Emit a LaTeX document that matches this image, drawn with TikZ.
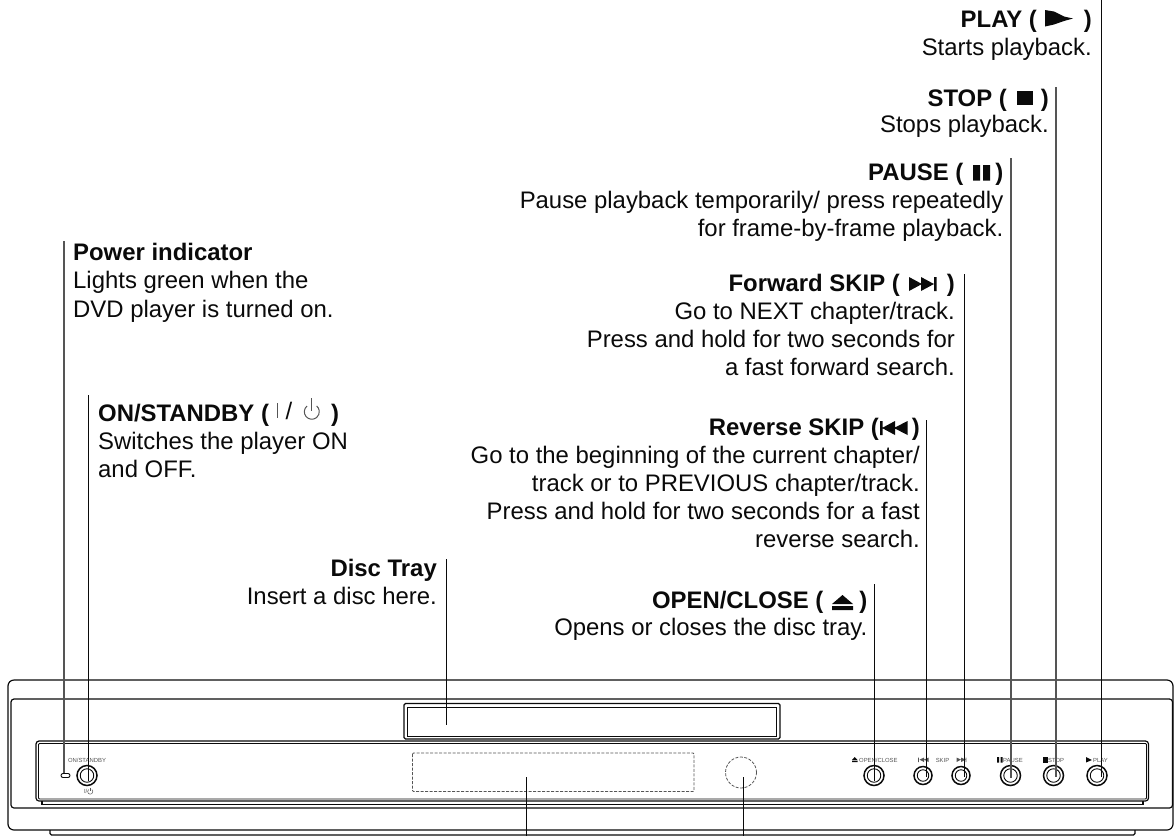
\documentclass[tikz,border=0pt]{standalone}
\usepackage{fontspec}
\setmainfont{Liberation Sans}
\definecolor{ink}{HTML}{0A0A0A}
\definecolor{fine}{HTML}{555555}
\tikzset{
  lblr/.style={anchor=north east,align=right,inner sep=0pt,text=ink,font=\fontsize{23.9}{28}\selectfont},
  lbll/.style={anchor=north west,align=left,inner sep=0pt,text=ink,font=\fontsize{23.9}{28}\selectfont},
  leader/.style={draw=ink,line width=1.4pt},
  body/.style={draw=ink,line width=1.2pt},
  thin/.style={draw=ink,line width=0.8pt},
  dashline/.style={draw=fine,line width=0.8pt,dash pattern=on 3pt off 1.5pt},
  btn/.style={circle,draw=ink,line width=1.5pt,minimum size=#1,inner sep=0pt},
  btni/.style={circle,draw=ink,line width=0.9pt,minimum size=#1,inner sep=0pt},
  tiny/.style={inner sep=0pt,text=fine,font=\fontsize{5.9}{7}\selectfont},
  icon/.style={fill=ink,draw=none},
}
\begin{document}
\begin{tikzpicture}[x=1pt,y=-1pt]
\useasboundingbox (0,0) rectangle (1175,836);
% device
\path[body,rounded corners=1.5pt] (50,830) -- (50,835) -- (1135,835) -- (1135,830);
\path[body,rounded corners=6pt] (8,680) rectangle (1173,830);
\path[body,rounded corners=3pt] (11,699) rectangle (1172.5,808);
\path[body] (42,801) -- (42,804.5) -- (1143,804.5) -- (1143,801);
\path[body,rounded corners=3pt] (36,741) rectangle (1148.5,801);
\path[thin,rounded corners=1pt] (38.5,743.5) rectangle (1146.5,799);
% tray
\path[body,rounded corners=1.5pt] (404,703.5) rectangle (780,739);
\path[thin] (407.3,707) rectangle (776.7,736);
% display and sensor
\path[dashline,rounded corners=1pt] (412.5,753) rectangle (694,791.5);
\node[circle,dashline,minimum size=31pt,inner sep=0pt] (sensor) at (741,772.5) {};
\node[draw=ink,line width=0.9pt,rounded corners=2pt,minimum width=9pt,minimum height=4pt,inner sep=0pt] (led) at (65.5,775.5) {};
% buttons
\node[btn=20pt] (power) at (87,775.5) {};   \node[btni=13.5pt] at (87,775.5) {};
\node[btn=20pt] (open) at (874,775.5) {};   \node[btni=13.5pt] at (874,775.5) {};
\node[btn=18pt] (rev) at (923,775.5) {};    \node[btni=11.5pt] at (923,775.5) {};
\node[btn=18pt] (fwd) at (961,775.5) {};    \node[btni=11.5pt] at (961,775.5) {};
\node[btn=20pt] (pause) at (1010.5,775.5) {}; \node[btni=13.5pt] at (1010.5,775.5) {};
\node[btn=20pt] (stop) at (1053.5,775.5) {};  \node[btni=13.5pt] at (1053.5,775.5) {};
\node[btn=20pt] (play) at (1097,775.5) {};   \node[btni=13.5pt] at (1097,775.5) {};
% small panel text
\node[tiny] (t1) at (87,760) {ON/STANDBY};
\node[tiny,anchor=east] (t2) at (87.5,791) {I/};
\draw[fine,line width=0.5pt] (88.6,789.6) arc[start angle=130,end angle=410,radius=2.6pt];
\draw[fine,line width=0.5pt] (90.3,787.8) -- (90.3,791);
\node[tiny,anchor=west] (t3) at (859,760) {OPEN/CLOSE};
\path[fill=ink] (852,762) -- (857.5,762) -- (857.5,760.8) -- (852,760.8) -- cycle (852,760) -- (854.7,757) -- (857.5,760) -- cycle;
\node[tiny] (t4) at (942.5,760) {SKIP};
\path[fill=fine] (918,757.5) rectangle (918.9,762) (924,757.5) -- (919.5,759.7) -- (924,762) -- cycle (928.5,757.5) -- (924,759.7) -- (928.5,762) -- cycle;
\path[fill=fine] (956.5,757.5) -- (961,759.7) -- (956.5,762) -- cycle (961,757.5) -- (965.5,759.7) -- (961,762) -- cycle (965.5,757.5) rectangle (966.3,762);
\node[tiny,anchor=west] (t5) at (1003,760) {PAUSE};
\path[fill=ink] (997.2,757) rectangle (999.2,762.5) (1000.5,757) rectangle (1002.5,762.5);
\node[tiny,anchor=west] (t6) at (1048,760) {STOP};
\path[fill=ink] (1043,757) rectangle (1047.5,762.5);
\node[tiny,anchor=west] (t7) at (1093,760) {PLAY};
\path[fill=ink] (1086,757) -- (1092,760) -- (1086,762.5) -- cycle;
% labels
\node[lblr] (lplay) at (1092,9.5) {\textbf{PLAY (\hspace{47pt})}\\Starts playback.};
\path[icon] (1045,10) -- (1054,11.5) -- (1064,16.5) -- (1073,18.5) -- (1064,21) -- (1054,24.5) -- (1045,26.5) -- cycle;
\node[lblr] (lstop) at (1049,88.5) {\textbf{STOP (\hspace{34pt})}\\[-1.5pt]Stops playback.};
\path[icon] (1016.5,91) rectangle (1032.5,104.5);
\node[lblr] (lpause) at (1003.5,163) {\textbf{PAUSE (\hspace{32pt})}\\Pause playback temporarily/ press repeatedly\\for frame-by-frame playback.};
\path[icon] (973,165) rectangle (980,180.5) (983,165) rectangle (990,180.5);
\node[lblr] (lfwd) at (955,274) {\textbf{Forward SKIP (\hspace{47pt})}\\Go to NEXT chapter/track.\\Press and hold for two seconds for\\a fast forward search.};
\path[icon] (909,277) -- (922,284) -- (909,291) -- cycle (921,277) -- (934,284) -- (921,291) -- cycle (934,277) rectangle (936.5,291);
\node[lblr] (lrev) at (920,418) {\textbf{Reverse SKIP (\hspace{33pt})}\\Go to the beginning of the current chapter/\\track or to PREVIOUS chapter/track.\\Press and hold for two seconds for a fast\\reverse search.};
\path[icon] (880,421) rectangle (882.5,435) (895,421) -- (882,428) -- (895,435) -- cycle (907.5,421) -- (894,428) -- (907.5,435) -- cycle;
\node[lblr] (lopen) at (867.5,591) {\textbf{OPEN/CLOSE (\hspace{36pt})}\\[-1pt]Opens or closes the disc tray.};
\path[icon] (832,604) -- (842.5,595) -- (853,604) -- cycle (832,606) rectangle (853,610);
\node[lblr] (ltray) at (437,558.5) {\textbf{Disc Tray}\\Insert a disc here.};
\node[lbll] (lind) at (73,243) {\textbf{Power indicator}\\Lights green when the\\[0.5pt]DVD player is turned on.};
\node[lbll] (lon) at (98,404) {\textbf{ON/STANDBY (\hspace{62pt})}\\Switches the player ON\\and OFF.};
\path[draw=fine,line width=0.9pt] (277.5,403) -- (277.5,418);
\node[inner sep=0pt,text=ink,font=\fontsize{23.9}{27.6}\selectfont] (slash) at (289,411) {/};
\draw[fine,line width=1pt] (307,406) arc[start angle=130,end angle=410,radius=7.5pt];
\draw[fine,line width=1pt] (311.8,398) -- (311.8,411);
% leader ends
\coordinate (a1) at (64,241);    \coordinate (b1) at (64,773);
\coordinate (a2) at (88.5,395);  \coordinate (b2) at (88.5,781);
\coordinate (a3) at (446.5,559); \coordinate (b3) at (446.5,725);
\coordinate (a4) at (874.5,584); \coordinate (b4) at (874.5,781);
\coordinate (a5) at (926.5,420); \coordinate (b5) at (926.5,777);
\coordinate (a6) at (964.5,274); \coordinate (b6) at (964.5,777);
\coordinate (a7) at (1011,158);  \coordinate (b7) at (1011,778);
\coordinate (a8) at (1056,87);   \coordinate (b8) at (1056,777);
\coordinate (a9) at (1101.5,0);  \coordinate (b9) at (1101.5,777);
\coordinate (a10) at (526.5,777);\coordinate (b10) at (526.5,836);
\coordinate (a11) at (743.5,777);\coordinate (b11) at (743.5,836);
\foreach \i in {2,3,4,5,6,9,10,11} {\draw[leader] (a\i) -- (b\i);}
\foreach \i in {1,7,8} {\draw[leader,draw=fine] (a\i) -- (b\i);}
\end{tikzpicture}
\end{document}
